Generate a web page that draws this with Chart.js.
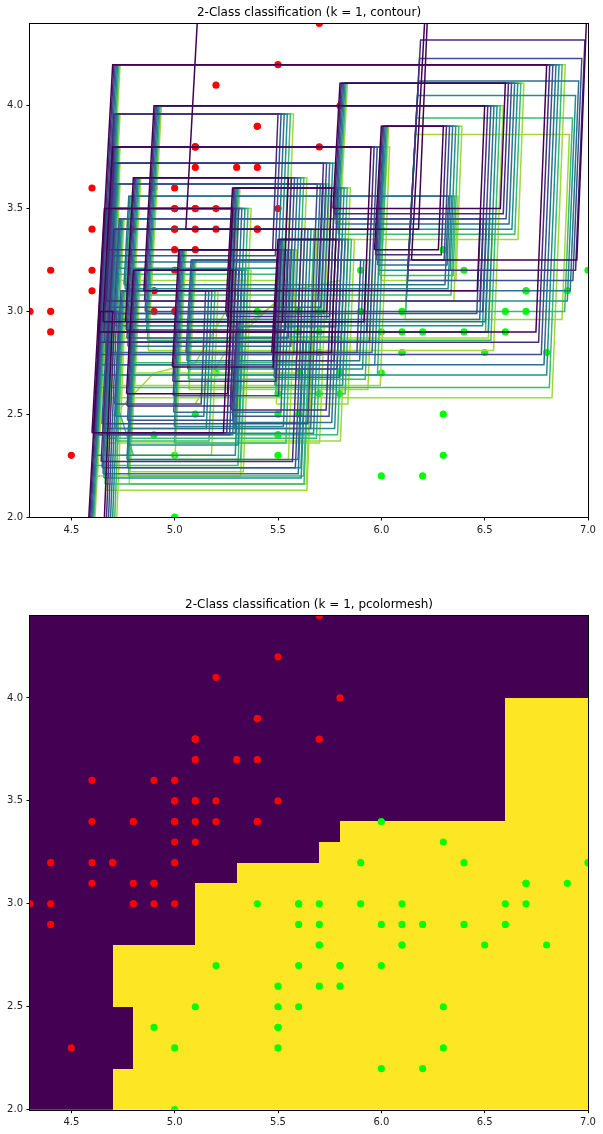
<!DOCTYPE html>
<html>
<head>
<meta charset="utf-8">
<script src="https://cdn.jsdelivr.net/npm/chart.js@4.4.1/dist/chart.umd.min.js"></script>
<style>
  html, body { margin: 0; padding: 0; background: #ffffff; }
  #wrap { position: relative; width: 603px; height: 1134px; overflow: hidden; }
  .box { position: absolute; left: 0; }
  canvas { display: block; }
</style>
</head>
<body>
<div id="wrap">
  <div class="box" style="top:0px;"><canvas id="c1" width="603" height="545"></canvas></div>
  <div class="box" style="top:590px;"><canvas id="c2" width="603" height="544"></canvas></div>
</div>
<script>
// ---------------- data ----------------
const titles = ['2-Class classification (k = 1, contour)', '2-Class classification (k = 1, pcolormesh)'];
const xRange = [4.3, 7.0];
const yRange = [2.0, 4.4];
const xTicks = [4.5, 5.0, 5.5, 6.0, 6.5, 7.0];
const yTicks = [2.0, 2.5, 3.0, 3.5, 4.0];

// class 0 (red) : sepal length / sepal width
const class0X = [5.1,4.9,4.7,4.6,5.0,5.4,4.6,5.0,4.4,4.9,5.4,4.8,4.8,4.3,5.8,5.7,5.4,5.1,5.7,5.1,5.4,5.1,4.6,5.1,4.8,5.0,5.0,5.2,5.2,4.7,4.8,5.4,5.2,5.5,4.9,5.0,5.5,4.9,4.4,5.1,5.0,4.5,4.4,5.0,5.1,4.8,5.1,4.6,5.3,5.0];
const class0Y = [3.5,3.0,3.2,3.1,3.6,3.9,3.4,3.4,2.9,3.1,3.7,3.4,3.0,3.0,4.0,4.4,3.9,3.5,3.8,3.8,3.4,3.7,3.6,3.3,3.4,3.0,3.4,3.5,3.4,3.2,3.1,3.4,4.1,4.2,3.1,3.2,3.5,3.6,3.0,3.4,3.5,2.3,3.2,3.5,3.8,3.0,3.8,3.2,3.7,3.3];
// class 1 (green)
const class1X = [7.0,6.4,6.9,5.5,6.5,5.7,6.3,4.9,6.6,5.2,5.0,5.9,6.0,6.1,5.6,6.7,5.6,5.8,6.2,5.6,5.9,6.1,6.3,6.1,6.4,6.6,6.8,6.7,6.0,5.7,5.5,5.5,5.8,6.0,5.4,6.0,6.7,6.3,5.6,5.5,5.5,6.1,5.8,5.0,5.6,5.7,5.7,6.2,5.1,5.7];
const class1Y = [3.2,3.2,3.1,2.3,2.8,2.8,3.3,2.4,2.9,2.7,2.0,3.0,2.2,2.9,2.9,3.1,3.0,2.7,2.2,2.5,3.2,2.8,2.5,2.8,2.9,3.0,2.8,3.0,2.9,2.6,2.4,2.4,2.7,2.7,3.0,3.4,3.1,2.3,3.0,2.5,2.6,3.0,2.6,2.3,2.7,3.0,2.9,2.9,2.5,2.8];

// contour level colours (viridis)
const levelColors = ['#440154','#472c7a','#3b518b','#2c718e','#21908d','#3aba76','#a0da39'];

// closed contour paths: [level, xBottomLeft, yBottom, xTopLeft, yTop, xTopRight, xBottomRight]
const contourPaths = [
  [0,4.629,2.90,4.700,4.20,6.800,6.748],[1,4.632,2.85,4.706,4.20,6.815,6.761],[2,4.635,2.79,4.712,4.20,6.830,6.774],
  [3,4.638,2.74,4.718,4.20,6.845,6.787],[4,4.642,2.69,4.724,4.20,6.860,6.800],[5,4.645,2.63,4.730,4.20,6.875,6.813],
  [6,4.648,2.58,4.736,4.20,6.890,6.826],
  [0,6.146,3.25,6.220,4.60,7.000,6.946],[1,6.128,3.20,6.190,4.32,6.985,6.940],[2,6.126,3.15,6.185,4.23,6.970,6.927],
  [3,6.124,3.10,6.180,4.12,6.955,6.914],[4,6.120,3.05,6.175,4.05,6.940,6.900],[5,6.118,3.00,6.170,3.94,6.925,6.887],
  [6,6.115,2.96,6.165,3.86,6.910,6.874],
  [0,5.054,3.40,5.120,4.60,6.230,6.180],
  [0,4.851,3.10,4.900,4.00,6.500,6.464],[1,4.854,3.05,4.906,4.00,6.515,6.477],[2,4.857,3.00,4.912,4.00,6.530,6.490],
  [3,4.861,2.95,4.918,4.00,6.545,6.503],[4,4.864,2.90,4.924,4.00,6.560,6.517],[5,4.868,2.86,4.930,4.00,6.575,6.530],
  [6,4.872,2.81,4.936,4.00,6.590,6.543],
  [0,5.766,3.50,5.800,4.11,6.600,6.576],[1,5.771,3.475,5.806,4.11,6.615,6.590],[2,5.776,3.45,5.812,4.11,6.630,6.604],
  [3,5.781,3.425,5.818,4.11,6.645,6.618],[4,5.786,3.40,5.824,4.11,6.660,6.632],[5,5.791,3.375,5.830,4.11,6.675,6.646],
  [6,5.796,3.35,5.836,4.11,6.690,6.661],
  [0,5.967,3.30,6.000,3.90,6.300,6.276],[1,5.972,3.275,6.006,3.90,6.315,6.290],[2,5.977,3.25,6.012,3.90,6.330,6.304],
  [3,5.982,3.225,6.018,3.90,6.345,6.318],[4,5.986,3.20,6.024,3.90,6.360,6.333],[5,5.991,3.175,6.030,3.90,6.375,6.347],
  [6,5.996,3.15,6.036,3.90,6.390,6.361],
  [0,4.653,2.95,4.700,3.80,5.950,5.916],[1,4.657,2.90,4.706,3.80,5.965,5.929],[2,4.660,2.85,4.712,3.80,5.980,5.942],
  [3,4.664,2.80,4.718,3.80,5.995,5.955],[4,4.667,2.74,4.724,3.80,6.010,5.968],[5,4.670,2.69,4.730,3.80,6.025,5.981],
  [6,4.674,2.64,4.736,3.80,6.040,5.995],
  [2,4.648,2.453,4.712,3.62,5.690,5.644],
  [3,4.653,2.43,4.718,3.62,5.705,5.658],[4,4.658,2.407,4.724,3.62,5.720,5.672],[5,4.663,2.383,4.730,3.62,5.735,5.686],
  [6,4.668,2.36,4.736,3.62,5.750,5.701],
  [0,4.600,2.41,4.660,3.50,5.280,5.236],[1,4.606,2.41,4.666,3.50,5.295,5.252],[2,4.612,2.40,4.672,3.50,5.310,5.266],
  [3,4.618,2.40,4.678,3.50,5.325,5.281],[4,4.619,2.30,4.684,3.50,5.340,5.293],[5,4.622,2.25,4.690,3.50,5.355,5.306],
  [6,4.626,2.20,4.696,3.50,5.370,5.319],
  [1,4.644,2.27,4.706,3.40,5.615,5.570],[2,4.649,2.24,4.712,3.40,5.630,5.584],
  [3,4.653,2.21,4.718,3.40,5.645,5.598],[4,4.658,2.19,4.724,3.40,5.660,5.612],[5,4.663,2.16,4.730,3.40,5.675,5.626],
  [6,4.667,2.13,4.736,3.40,5.690,5.640],
  [0,4.989,2.73,5.020,3.30,5.500,5.477],[1,4.991,2.66,5.026,3.30,5.515,5.490],[2,4.993,2.59,5.032,3.30,5.530,5.502],
  [3,4.995,2.51,5.038,3.30,5.545,5.514],[4,4.998,2.44,5.044,3.30,5.560,5.526],[5,4.999,2.36,5.050,3.30,5.575,5.538],
  [6,5.001,2.28,5.056,3.30,5.590,5.550],
  [0,4.767,2.60,4.800,3.20,5.280,5.256],[1,4.770,2.54,4.806,3.20,5.295,5.269],[2,4.772,2.47,4.812,3.20,5.310,5.281],
  [3,4.775,2.41,4.818,3.20,5.325,5.294],[4,4.778,2.35,4.824,3.20,5.340,5.307],[5,4.780,2.28,4.830,3.20,5.355,5.319],
  [6,4.783,2.22,4.836,3.20,5.370,5.332],
  [0,4.579,1.90,4.640,3.00,4.700,4.656],[1,4.584,1.90,4.645,3.00,4.710,4.666],[2,4.589,1.90,4.650,3.00,4.720,4.676],
  [3,4.594,1.90,4.655,3.00,4.730,4.686],[4,4.599,1.90,4.660,3.00,4.740,4.696],[5,4.604,1.90,4.665,3.00,4.750,4.706],
  [6,4.609,1.90,4.670,3.00,4.760,4.716],
  [3,4.755,3.13,4.778,3.56,6.325,6.308],[4,4.760,3.11,4.784,3.56,6.340,6.323],[5,4.765,3.08,4.790,3.56,6.355,6.337],
  [6,4.769,3.05,4.796,3.56,6.370,6.351],
  [2,4.707,2.99,4.732,3.45,6.480,6.462],
  [3,4.712,2.96,4.738,3.45,6.495,6.476],[4,4.716,2.93,4.744,3.45,6.510,6.490],[5,4.721,2.90,4.750,3.45,6.525,6.504],
  [6,4.725,2.87,4.756,3.45,6.540,6.518],
  [2,4.710,2.55,4.740,3.10,5.150,5.128],[3,4.712,2.49,4.746,3.10,5.165,5.141],[4,4.715,2.43,4.752,3.10,5.180,5.153],
  [5,4.718,2.37,4.758,3.10,5.195,5.166],[6,4.720,2.30,4.764,3.10,5.210,5.178],
  [1,5.276,2.52,5.300,2.95,5.750,5.733],[2,5.281,2.49,5.306,2.95,5.765,5.747],[3,5.285,2.46,5.312,2.95,5.780,5.760],
  [4,5.289,2.43,5.318,2.95,5.795,5.774],[5,5.294,2.40,5.324,2.95,5.810,5.788],[6,5.298,2.37,5.330,2.95,5.825,5.802],
  [0,5.470,2.80,5.500,3.35,5.780,5.758],[1,5.474,2.76,5.506,3.35,5.795,5.771],[2,5.477,2.72,5.512,3.35,5.810,5.785],
  [3,5.481,2.68,5.518,3.35,5.825,5.798],[4,5.485,2.64,5.524,3.35,5.840,5.812],[5,5.489,2.60,5.530,3.35,5.855,5.825],
  [6,5.492,2.55,5.536,3.35,5.870,5.838],
  [3,4.769,2.28,4.800,2.85,5.620,5.597],[4,4.772,2.24,4.806,2.85,5.635,5.611],[5,4.776,2.20,4.812,2.85,5.650,5.624],
  [6,4.780,2.16,4.818,2.85,5.665,5.637],
  [2,5.055,2.80,5.080,3.25,5.900,5.882],[3,5.059,2.76,5.086,3.25,5.915,5.895],[4,5.063,2.72,5.092,3.25,5.930,5.909],
  [5,5.066,2.67,5.098,3.25,5.945,5.922],[6,5.069,2.62,5.104,3.25,5.960,5.935],
  [0,4.762,2.95,4.800,3.65,5.550,5.522],[1,4.765,2.91,4.806,3.65,5.565,5.535],[2,4.769,2.87,4.812,3.65,5.580,5.549],
  [3,4.773,2.83,4.818,3.65,5.595,5.562],[4,4.777,2.79,4.824,3.65,5.610,5.576],[5,4.780,2.75,4.830,3.65,5.625,5.589],
  [6,4.784,2.70,4.836,3.65,5.640,5.602],
  [1,4.669,3.05,4.706,3.72,5.720,5.693],[2,4.674,3.02,4.712,3.72,5.735,5.707],[3,4.678,2.99,4.718,3.72,5.750,5.721],
  [4,4.682,2.96,4.724,3.72,5.765,5.735],[5,4.687,2.93,4.730,3.72,5.780,5.748],[6,4.691,2.90,4.736,3.72,5.795,5.762],
  [1,4.670,3.30,4.706,3.96,5.500,5.474],[2,4.674,3.27,4.712,3.96,5.515,5.487],[3,4.678,3.24,4.718,3.96,5.530,5.501],
  [4,4.683,3.21,4.724,3.96,5.545,5.515],[5,4.687,3.18,4.730,3.96,5.560,5.529],[6,4.691,3.15,4.736,3.96,5.575,5.543],
  [0,5.247,3.00,5.280,3.60,5.760,5.736],[1,5.252,2.975,5.286,3.60,5.775,5.750],[2,5.256,2.95,5.292,3.60,5.790,5.764],
  [3,5.261,2.925,5.298,3.60,5.805,5.778],[4,5.266,2.90,5.304,3.60,5.820,5.792],[5,5.270,2.875,5.310,3.60,5.835,5.806],
  [6,5.275,2.85,5.316,3.60,5.850,5.820]
];

// open contour segments (diagonal pieces): level, x list, y list
const contourLevelsOpen = [6, 6, 5, 6];
const contourOpenX = [[4.70,4.90,5.10,5.30], [5.30,5.55,5.80], [4.72,4.80], [5.10,5.30,5.50]];
const contourOpenY = [[2.49,2.70,2.75,3.09], [2.87,3.10,3.15], [2.55,2.30], [2.55,2.90,3.05]];

// pcolormesh grid edges and predicted class per cell (row 0 = y 2.0–2.1, column 0 = x 4.3–4.4)
const meshX = [4.3,4.4,4.5,4.6,4.7,4.8,4.9,5.0,5.1,5.2,5.3,5.4,5.5,5.6,5.7,5.8,5.9,6.0,6.1,6.2,6.3,6.4,6.5,6.6,6.7,6.8,6.9,7.0];
const meshY = [2.0,2.1,2.2,2.3,2.4,2.5,2.6,2.7,2.8,2.9,3.0,3.1,3.2,3.3,3.4,3.5,3.6,3.7,3.8,3.9,4.0,4.1,4.2,4.3,4.4];
const meshRows = [
  '000011111111111111111111111', // 2.0
  '000011111111111111111111111', // 2.1
  '000001111111111111111111111', // 2.2
  '000001111111111111111111111', // 2.3
  '000001111111111111111111111', // 2.4
  '000011111111111111111111111', // 2.5
  '000011111111111111111111111', // 2.6
  '000011111111111111111111111', // 2.7
  '000000001111111111111111111', // 2.8
  '000000001111111111111111111', // 2.9
  '000000001111111111111111111', // 3.0
  '000000000011111111111111111', // 3.1
  '000000000000001111111111111', // 3.2
  '000000000000000111111111111', // 3.3
  '000000000000000000000001111', // 3.4
  '000000000000000000000001111', // 3.5
  '000000000000000000000001111', // 3.6
  '000000000000000000000001111', // 3.7
  '000000000000000000000001111', // 3.8
  '000000000000000000000001111', // 3.9
  '000000000000000000000000000', // 4.0
  '000000000000000000000000000', // 4.1
  '000000000000000000000000000', // 4.2
  '000000000000000000000000000'  // 4.3
];
const meshColors = ['#440154', '#fde725'];

// ---------------- rendering ----------------
const FONT = 'DejaVu Sans';

const framePlugin = {
  id: 'frame',
  afterDatasetsDraw(chart) {
    const a = chart.chartArea, ctx = chart.ctx;
    ctx.save();
    ctx.strokeStyle = '#000';
    ctx.lineWidth = 1;
    const l = Math.round(a.left) - 0.5, t = Math.round(a.top) - 0.5;
    const r = Math.round(a.right) + 0.5, b = Math.round(a.bottom) + 0.5;
    ctx.strokeRect(l, t, r - l, b - t);
    ctx.restore();
  }
};

const meshPlugin = {
  id: 'mesh',
  beforeDatasetsDraw(chart, args, opts) {
    if (!opts || !opts.enabled) return;
    const ctx = chart.ctx, xs = chart.scales.x, ys = chart.scales.y, a = chart.chartArea;
    ctx.save();
    ctx.beginPath(); ctx.rect(a.left, a.top, a.width, a.height); ctx.clip();
    for (let r = 0; r < meshRows.length; r++) {
      for (let c = 0; c < meshRows[r].length; c++) {
        const x0 = Math.round(xs.getPixelForValue(meshX[c]));
        const x1 = Math.round(xs.getPixelForValue(meshX[c + 1]));
        const y0 = Math.round(ys.getPixelForValue(meshY[r]));
        const y1 = Math.round(ys.getPixelForValue(meshY[r + 1]));
        ctx.fillStyle = meshColors[+meshRows[r][c]];
        ctx.fillRect(x0, y1, x1 - x0, y0 - y1);
      }
    }
    ctx.restore();
  }
};

function pointsDataset(xsArr, ysArr, color) {
  return {
    type: 'scatter',
    data: xsArr.map((v, i) => ({ x: v, y: ysArr[i] })),
    pointRadius: 3.6, pointHoverRadius: 3.6,
    pointBackgroundColor: color, pointBorderWidth: 0, borderWidth: 0,
    showLine: false, clip: 0, order: 100
  };
}

function lineDataset(pts, lvl) {
  return {
    type: 'scatter', data: pts,
    showLine: true, fill: false, tension: 0,
    borderColor: levelColors[lvl], borderWidth: 1.5,
    pointRadius: 0, pointHoverRadius: 0,
    clip: 0, order: lvl
  };
}

function contourDatasets() {
  const closed = contourPaths.map(p => {
    const [lvl, xbl, yb, xtl, yt, xtr, xbr] = p;
    return lineDataset([{x: xbl, y: yb}, {x: xtl, y: yt}, {x: xtr, y: yt}, {x: xbr, y: yb}, {x: xbl, y: yb}], lvl);
  });
  const open = contourLevelsOpen.map((lvl, i) =>
    lineDataset(contourOpenX[i].map((v, j) => ({ x: v, y: contourOpenY[i][j] })), lvl));
  return closed.concat(open);
}

function makeOptions(title, titlePad, xAxisHeight, meshOn) {
  return {
    responsive: false, animation: false, devicePixelRatio: 1,
    layout: { padding: { left: 0, right: 15, top: 0, bottom: 0 } },
    plugins: {
      legend: { display: false }, tooltip: { enabled: false },
      title: {
        display: true, text: title, fullSize: false,
        color: '#000', font: { family: FONT, size: 12, weight: 'normal', lineHeight: 1.2 },
        padding: titlePad
      },
      mesh: { enabled: meshOn }
    },
    scales: {
      x: {
        type: 'linear', position: 'bottom', min: xRange[0], max: xRange[1],
        afterBuildTicks: s => { s.ticks = xTicks.map(v => ({ value: v })); },
        afterFit: s => { s.height = xAxisHeight; },
        grid: { drawOnChartArea: false, drawTicks: true, tickLength: 3.5, color: '#000', lineWidth: 1 },
        border: { display: false },
        ticks: { autoSkip: false, maxRotation: 0, padding: 3.5, color: '#222',
                 font: { family: FONT, size: 10 }, callback: v => Number(v).toFixed(1) }
      },
      y: {
        type: 'linear', position: 'left', min: yRange[0], max: yRange[1],
        afterBuildTicks: s => { s.ticks = yTicks.map(v => ({ value: v })); },
        afterFit: s => { s.width = 30; },
        grid: { drawOnChartArea: false, drawTicks: true, tickLength: 3.5, color: '#000', lineWidth: 1 },
        border: { display: false },
        ticks: { autoSkip: false, padding: 3.5, color: '#222',
                 font: { family: FONT, size: 10 }, callback: v => Number(v).toFixed(1) }
      }
    }
  };
}

new Chart(document.getElementById('c1'), {
  type: 'scatter',
  data: { datasets: [
    ...contourDatasets(),
    pointsDataset(class0X, class0Y, '#ff0000'),
    pointsDataset(class1X, class1Y, '#00ff00')
  ] },
  options: makeOptions(titles[0], { top: 5.5, bottom: 3.6 }, 28, false),
  plugins: [meshPlugin, framePlugin]
});

new Chart(document.getElementById('c2'), {
  type: 'scatter',
  data: { datasets: [
    pointsDataset(class0X, class0Y, '#ff0000'),
    pointsDataset(class1X, class1Y, '#00ff00')
  ] },
  options: makeOptions(titles[1], { top: 7.8, bottom: 3.4 }, 24.3, true),
  plugins: [meshPlugin, framePlugin]
});
</script>
</body>
</html>
